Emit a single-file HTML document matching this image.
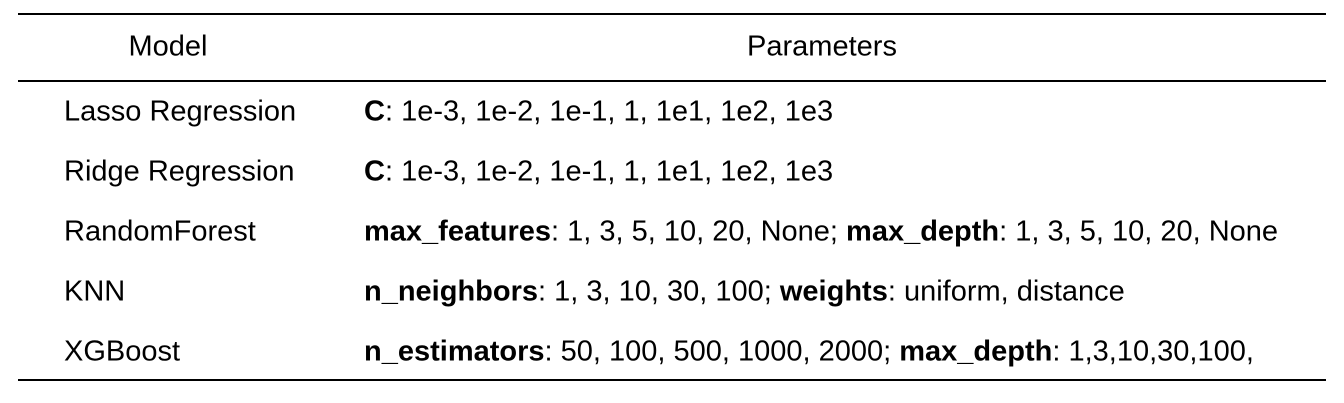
<!DOCTYPE html>
<html>
<head>
<meta charset="utf-8">
<style>
  html, body { margin: 0; padding: 0; background: #fff; }
  body { width: 1344px; height: 403px; position: relative; overflow: hidden;
         font-family: "Liberation Sans", sans-serif; color: #000; font-size: 29px; }
  .rule { position: absolute; left: 18px; width: 1308px; height: 1.5px; background: #000; }
  .cell { position: absolute; white-space: nowrap; line-height: 1; transform: translateY(-50%); }
  .center { transform: translate(-50%, -50%); }
  b { font-weight: bold; }
</style>
</head>
<body>
<div>
  <div class="rule" style="top:13px"></div>
  <div class="cell center" style="left:168px;top:47px">Model</div>
  <div class="cell center" style="left:822px;top:47px">Parameters</div>
  <div class="rule" style="top:80px"></div>

  <div class="cell" style="left:64px;top:112px">Lasso Regression</div>
  <div class="cell" style="left:364px;top:112px"><b>C</b>: 1e-3, 1e-2, 1e-1, 1, 1e1, 1e2, 1e3</div>

  <div class="cell" style="left:64px;top:172px">Ridge Regression</div>
  <div class="cell" style="left:364px;top:172px"><b>C</b>: 1e-3, 1e-2, 1e-1, 1, 1e1, 1e2, 1e3</div>

  <div class="cell" style="left:64px;top:232px">RandomForest</div>
  <div class="cell" style="left:364px;top:232px"><b>max_features</b>: 1, 3, 5, 10, 20, None; <b>max_depth</b>: 1, 3, 5, 10, 20, None</div>

  <div class="cell" style="left:64px;top:292px">KNN</div>
  <div class="cell" style="left:364px;top:292px"><b>n_neighbors</b>: 1, 3, 10, 30, 100; <b>weights</b>: uniform, distance</div>

  <div class="cell" style="left:64px;top:352px">XGBoost</div>
  <div class="cell" style="left:364px;top:352px"><b>n_estimators</b>: 50, 100, 500, 1000, 2000; <b>max_depth</b>: 1,3,10,30,100,</div>

  <div class="rule" style="top:379px"></div>
</div>
</body>
</html>
